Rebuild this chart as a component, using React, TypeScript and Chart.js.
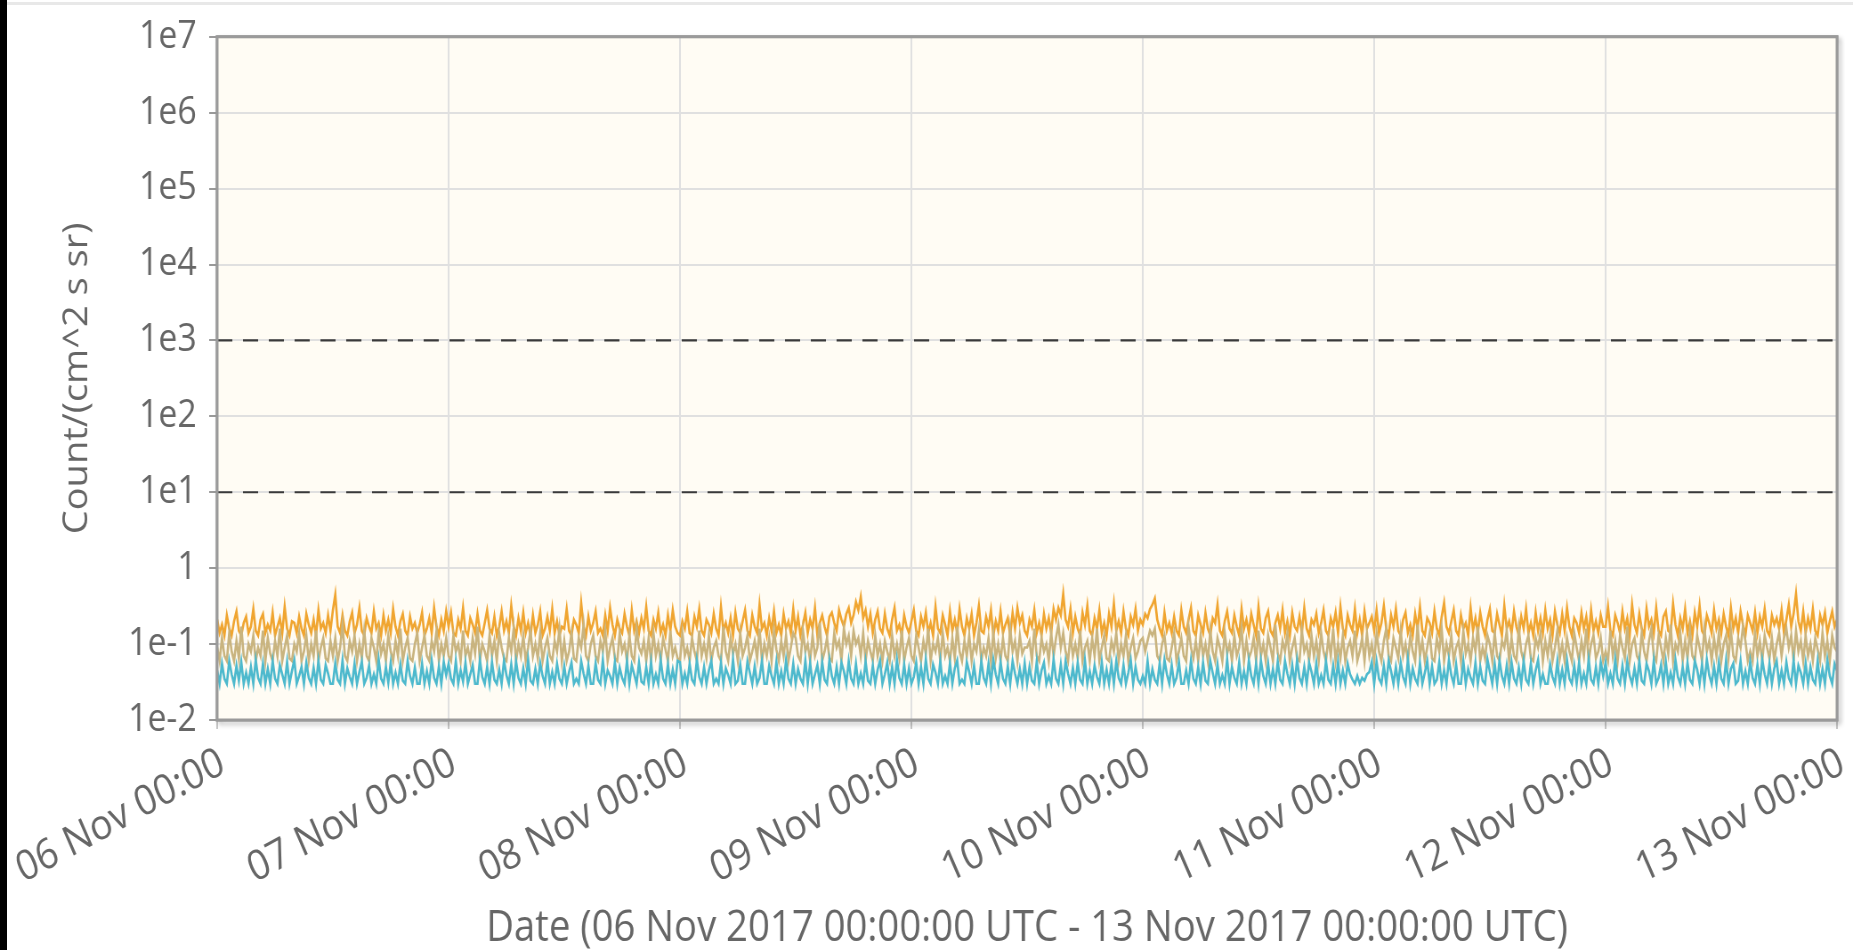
import React, { useEffect, useRef } from "react";
import { Chart, registerables } from "chart.js";

Chart.register(...registerables);

// ---- layout constants (screen picture is slightly narrow, so draw wide and squash) ----
const SQUASH = 0.89;
const SCREEN_W = 1853;
const H = 950;
const W = Math.round(SCREEN_W / SQUASH);
const PLOT_LEFT = Math.round(217 / SQUASH);
const PLOT_RIGHT = Math.round(1837 / SQUASH);
const PLOT_TOP = 30;
const PLOT_BOTTOM = 720;

// ---- data ----
const stepHours = 0.25; // one reading every 15 minutes, starting 06 Nov 2017 00:00 UTC
const xTickHours = [0, 24, 48, 72, 96, 120, 144, 168];
const xTickLabels = [
  "06 Nov 00:00", "07 Nov 00:00", "08 Nov 00:00", "09 Nov 00:00",
  "10 Nov 00:00", "11 Nov 00:00", "12 Nov 00:00", "13 Nov 00:00",
];
const yTickValues = [1e-2, 1e-1, 1, 1e1, 1e2, 1e3, 1e4, 1e5, 1e6, 1e7];
const yTickLabels = ["1e-2", "1e-1", "1", "1e1", "1e2", "1e3", "1e4", "1e5", "1e6", "1e7"];
const thresholds = [1000, 10];
const xTitle = "Date (06 Nov 2017 00:00:00 UTC - 13 Nov 2017 00:00:00 UTC)";
const yTitle = "Count/(cm^2 s sr)";

const orange = [
  .21,.14,.18,.13,.24,.16,.13,.20,.27,.15,.13,.19, .23,.14,.17,.29,.15,.13,.21,.25,.14,.18,.15,.26,
  .13,.17,.22,.14,.31,.16,.13,.20,.19,.14,.23,.16, .13,.25,.18,.14,.21,.13,.28,.16,.19,.14,.24,.15,
  .28,.45,.17,.14,.24,.15,.13,.20,.26,.14,.18,.30, .15,.13,.22,.17,.14,.27,.16,.19,.13,.24,.15,.21,
  .14,.29,.17,.13,.20,.25,.15,.13,.23,.16,.19,.14, .18,.26,.13,.16,.22,.14,.30,.17,.13,.21,.15,.27,

  .17,.26,.14,.13,.21,.16,.30,.15,.13,.22,.18,.14, .25,.15,.13,.19,.28,.16,.14,.23,.13,.17,.27,.15,
  .20,.14,.32,.17,.13,.22,.15,.26,.14,.19,.13,.24, .14,.18,.27,.13,.16,.23,.15,.29,.14,.20,.13,.17,
  .16,.29,.15,.13,.21,.18,.14,.35,.17,.13,.23,.15, .19,.27,.14,.16,.13,.24,.15,.30,.18,.13,.21,.16,
  .14,.25,.17,.13,.28,.15,.20,.14,.22,.16,.31,.15, .13,.21,.16,.26,.14,.18,.13,.24,.15,.28,.17,.14,

  .13,.20,.16,.27,.14,.13,.23,.17,.29,.15,.13,.21, .18,.14,.25,.16,.13,.31,.15,.19,.14,.22,.13,.26,
  .16,.14,.20,.28,.15,.13,.24,.17,.14,.33,.16,.19, .13,.22,.15,.27,.14,.18,.13,.25,.16,.20,.14,.29,
  .15,.23,.13,.18,.26,.14,.21,.16,.30,.13,.19,.24, .17,.13,.23,.26,.19,.15,.28,.21,.17,.25,.30,.19,
  .24,.36,.28,.42,.22,.28,.17,.25,.14,.21,.27,.16, .14,.25,.16,.13,.21,.30,.15,.18,.13,.24,.17,.14,

  .20,.28,.15,.13,.23,.17,.26,.14,.19,.13,.31,.16, .14,.24,.18,.13,.27,.15,.21,.14,.29,.17,.13,.22,
  .16,.25,.13,.19,.32,.15,.14,.23,.17,.28,.13,.20, .15,.27,.14,.18,.22,.13,.26,.16,.30,.19,.24,.15,
  .13,.21,.17,.28,.14,.19,.13,.25,.16,.22,.14,.29, .21,.30,.24,.46,.21,.17,.29,.14,.23,.16,.13,.26,
  .18,.32,.15,.13,.22,.16,.28,.14,.19,.13,.25,.17, .34,.15,.20,.14,.27,.16,.13,.23,.18,.29,.15,.21,

  .18,.25,.22,.29,.33,.40,.21,.16,.13,.26,.15,.19, .14,.23,.15,.13,.28,.17,.14,.21,.30,.15,.13,.24,
  .18,.14,.26,.16,.13,.22,.19,.33,.15,.13,.20,.27, .16,.14,.24,.17,.13,.29,.16,.21,.14,.25,.18,.13,
  .31,.16,.14,.22,.27,.15,.13,.19,.24,.16,.28,.14, .20,.13,.26,.17,.15,.23,.14,.30,.16,.13,.21,.18,
  .25,.14,.19,.28,.15,.13,.22,.17,.26,.14,.31,.16, .13,.24,.18,.15,.29,.14,.21,.13,.27,.16,.19,.23,

  .15,.28,.14,.19,.32,.16,.13,.24,.17,.29,.15,.13, .21,.26,.14,.18,.13,.25,.16,.31,.15,.13,.22,.19,
  .14,.27,.16,.13,.23,.35,.17,.14,.20,.28,.15,.13, .24,.16,.19,.13,.30,.15,.22,.14,.26,.17,.13,.21,
  .29,.15,.14,.25,.18,.13,.32,.16,.20,.14,.27,.17, .13,.23,.16,.29,.14,.19,.13,.26,.15,.22,.14,.28,
  .16,.21,.13,.27,.18,.14,.25,.15,.30,.17,.13,.22, .19,.14,.26,.16,.23,.13,.28,.15,.20,.14,.24,.17,

  .17,.31,.15,.13,.24,.19,.14,.27,.16,.22,.13,.33, .18,.14,.25,.16,.13,.29,.17,.21,.14,.30,.15,.13,
  .23,.27,.15,.14,.34,.18,.13,.22,.16,.29,.14,.20, .13,.26,.17,.32,.15,.13,.24,.19,.14,.28,.16,.21,
  .14,.25,.17,.13,.30,.16,.22,.14,.27,.18,.13,.24, .19,.15,.26,.14,.23,.17,.29,.15,.13,.24,.18,.22,
  .16,.28,.14,.21,.33,.17,.25,.46,.20,.15,.27,.14, .22,.16,.29,.15,.13,.24,.18,.26,.14,.20,.27,.17,

  .21,
];

const tan = [
  .09,.06,.12,.07,.06,.14,.08,.06,.11,.065,.17,.07, .06,.10,.08,.13,.06,.09,.07,.15,.06,.12,.075,.06,
  .11,.07,.16,.06,.09,.13,.065,.06,.10,.08,.14,.06, .08,.13,.06,.10,.07,.15,.06,.09,.12,.065,.06,.11,
  .07,.12,.06,.09,.18,.07,.06,.11,.08,.13,.06,.10, .065,.15,.07,.06,.12,.09,.06,.14,.075,.10,.06,.13,
  .08,.06,.11,.07,.16,.06,.09,.12,.065,.06,.10,.14, .06,.09,.13,.07,.06,.11,.08,.15,.06,.10,.07,.12,

  .07,.06,.13,.08,.10,.06,.15,.07,.09,.06,.12,.075, .17,.06,.10,.08,.06,.13,.07,.11,.06,.14,.09,.065,
  .06,.12,.08,.16,.06,.10,.07,.13,.06,.09,.15,.07, .10,.065,.14,.06,.09,.12,.07,.06,.11,.08,.16,.06,
  .11,.06,.08,.14,.065,.06,.12,.09,.18,.07,.06,.10, .13,.07,.06,.11,.08,.15,.06,.09,.12,.065,.06,.14,
  .08,.10,.06,.13,.07,.06,.16,.09,.075,.11,.06,.12, .06,.14,.07,.10,.06,.12,.085,.06,.15,.07,.09,.065,

  .06,.14,.07,.09,.06,.12,.08,.06,.15,.07,.10,.065, .13,.06,.09,.11,.07,.06,.17,.08,.06,.12,.075,.10,
  .06,.14,.07,.09,.13,.06,.08,.11,.065,.16,.06,.10, .07,.12,.06,.15,.085,.06,.11,.07,.13,.06,.09,.14,
  .12,.07,.06,.15,.08,.10,.06,.13,.07,.09,.19,.06, .08,.12,.065,.06,.14,.09,.11,.06,.16,.10,.13,.07,
  .15,.10,.12,.07,.14,.06,.11,.08,.06,.13,.07,.10, .06,.11,.08,.06,.13,.07,.10,.065,.15,.06,.09,.12,

  .07,.06,.13,.09,.06,.11,.075,.16,.06,.10,.08,.12, .06,.14,.07,.09,.06,.12,.065,.17,.08,.06,.11,.07,
  .13,.06,.10,.08,.15,.06,.09,.07,.12,.06,.14,.065, .10,.06,.12,.07,.06,.16,.08,.11,.06,.13,.075,.09,
  .09,.11,.06,.16,.07,.06,.12,.08,.10,.06,.14,.07, .12,.18,.09,.14,.08,.06,.13,.07,.10,.065,.15,.06,
  .09,.11,.06,.12,.07,.16,.06,.09,.13,.065,.06,.11, .08,.14,.06,.10,.07,.13,.06,.09,.12,.065,.08,.11,

  .12,.08,.11,.15,.13,.16,.07,.06,.10,.13,.065,.06, .09,.14,.06,.08,.12,.07,.06,.17,.09,.065,.11,.06,
  .13,.07,.10,.06,.15,.08,.06,.12,.09,.06,.14,.075, .10,.06,.13,.07,.09,.16,.06,.11,.065,.08,.12,.06,
  .15,.07,.10,.06,.13,.09,.06,.18,.075,.06,.11,.08, .14,.06,.09,.12,.065,.06,.15,.08,.10,.06,.13,.07,
  .11,.06,.14,.08,.06,.12,.07,.16,.06,.10,.065,.13, .06,.09,.11,.07,.15,.06,.08,.12,.06,.14,.07,.10,

  .06,.14,.08,.06,.11,.16,.07,.06,.12,.09,.065,.15, .07,.10,.06,.13,.08,.06,.18,.07,.11,.06,.09,.14,
  .065,.06,.12,.08,.16,.06,.10,.07,.13,.06,.09,.11, .06,.15,.075,.10,.06,.12,.08,.17,.06,.09,.065,.13,
  .10,.06,.14,.07,.06,.11,.09,.15,.06,.12,.07,.06, .16,.08,.06,.10,.13,.065,.06,.12,.09,.14,.06,.11,
  .07,.13,.06,.09,.15,.065,.10,.06,.12,.08,.06,.14, .09,.06,.11,.07,.16,.06,.10,.13,.065,.08,.12,.06,

  .08,.06,.15,.07,.11,.06,.13,.09,.065,.17,.06,.10, .12,.07,.06,.14,.08,.06,.11,.16,.07,.06,.13,.09,
  .06,.12,.075,.18,.06,.10,.08,.14,.06,.11,.065,.15, .07,.06,.13,.09,.06,.16,.08,.11,.06,.12,.07,.14,
  .06,.10,.13,.065,.15,.07,.06,.12,.09,.17,.11,.06, .08,.06,.14,.07,.11,.06,.13,.09,.065,.12,.06,.10,
  .14,.07,.12,.16,.09,.13,.06,.15,.08,.11,.06,.13, .07,.10,.06,.12,.085,.06,.14,.07,.11,.06,.13,.09,

  .08,
];

const blue = [
  .045,.03,.055,.035,.03,.06,.04,.03,.052,.033,.058,.03, .042,.03,.05,.03,.062,.036,.03,.055,.03,.047,.03,.06,
  .035,.03,.053,.04,.03,.058,.03,.044,.062,.03,.038,.05, .03,.057,.036,.03,.049,.03,.06,.034,.03,.053,.041,.03,
  .03,.056,.034,.03,.061,.03,.048,.037,.03,.055,.03,.043, .059,.03,.036,.052,.03,.04,.03,.063,.035,.03,.05,.031,
  .057,.03,.042,.03,.054,.033,.03,.06,.038,.03,.049,.03, .03,.055,.03,.044,.03,.061,.036,.03,.051,.03,.058,.039,

  .055,.035,.03,.06,.03,.045,.032,.057,.03,.04,.053,.03, .03,.062,.037,.03,.05,.03,.058,.034,.03,.046,.03,.061,
  .039,.03,.054,.03,.059,.036,.03,.048,.03,.063,.033,.03, .047,.03,.056,.038,.03,.061,.03,.043,.03,.055,.035,.03,
  .051,.03,.043,.057,.03,.035,.03,.06,.041,.03,.052,.03, .03,.056,.034,.03,.062,.03,.045,.038,.03,.058,.03,.049,
  .036,.03,.06,.03,.053,.04,.03,.057,.032,.03,.05,.03, .058,.03,.04,.03,.062,.035,.03,.054,.03,.046,.03,.06,

  .058,.03,.041,.03,.055,.034,.03,.062,.037,.03,.05,.03, .045,.06,.03,.035,.03,.057,.03,.048,.039,.03,.063,.03,
  .033,.054,.03,.03,.059,.042,.03,.051,.03,.036,.06,.03, .03,.052,.038,.03,.058,.03,.044,.03,.061,.035,.03,.055,
  .03,.047,.035,.03,.061,.03,.056,.03,.04,.053,.03,.058, .034,.03,.062,.038,.03,.05,.03,.057,.044,.03,.06,.035,
  .03,.055,.03,.041,.03,.059,.033,.03,.052,.03,.046,.061, .03,.04,.057,.03,.05,.03,.063,.036,.03,.054,.03,.048,

  .03,.037,.057,.03,.05,.03,.063,.035,.03,.054,.042,.03, .06,.03,.038,.03,.056,.03,.048,.061,.03,.034,.03,.058,
  .043,.03,.052,.03,.03,.06,.036,.03,.055,.03,.062,.04, .03,.058,.035,.03,.051,.03,.06,.041,.03,.047,.03,.056,
  .03,.05,.033,.03,.059,.03,.045,.057,.03,.038,.03,.063, .035,.03,.054,.03,.06,.041,.03,.049,.03,.057,.034,.03,
  .061,.03,.044,.03,.052,.037,.03,.058,.03,.046,.03,.055, .03,.06,.036,.03,.053,.03,.042,.062,.03,.05,.034,.03,

  .038,.03,.06,.03,.047,.034,.03,.056,.03,.062,.04,.03, .053,.03,.036,.058,.03,.03,.045,.03,.061,.035,.03,.05,
  .03,.057,.033,.03,.06,.042,.03,.054,.03,.039,.03,.063, .03,.05,.036,.03,.058,.03,.044,.03,.061,.038,.03,.055,
  .03,.061,.038,.03,.055,.03,.047,.03,.059,.034,.03,.06, .041,.03,.053,.03,.062,.036,.03,.05,.03,.057,.043,.03,
  .056,.03,.039,.03,.06,.034,.03,.052,.03,.058,.03,.045, .03,.055,.04,.034,.03,.038,.03,.036,.033,.04,.043,.058,

  .03,.059,.035,.03,.052,.03,.061,.044,.03,.05,.03,.057, .037,.03,.063,.03,.048,.035,.03,.056,.03,.042,.06,.03,
  .051,.03,.034,.058,.03,.045,.03,.062,.039,.03,.054,.03, .03,.06,.03,.047,.036,.03,.057,.03,.05,.033,.03,.063,
  .043,.03,.055,.03,.061,.038,.03,.052,.03,.058,.035,.03, .049,.03,.06,.034,.03,.056,.03,.045,.062,.03,.04,.03,
  .03,.054,.037,.03,.059,.03,.046,.03,.061,.035,.03,.052, .03,.057,.03,.041,.03,.063,.034,.03,.05,.03,.058,.038,

  .057,.03,.041,.03,.063,.035,.03,.052,.03,.059,.038,.03, .048,.03,.06,.033,.03,.055,.044,.03,.061,.03,.036,.053,
  .03,.058,.03,.042,.03,.062,.037,.03,.05,.03,.057,.034, .03,.06,.046,.03,.054,.03,.063,.039,.03,.051,.03,.058,
  .035,.03,.061,.03,.047,.056,.03,.033,.06,.03,.044,.03, .059,.036,.03,.053,.03,.062,.04,.03,.055,.03,.048,.06,
  .03,.045,.03,.058,.036,.03,.061,.03,.052,.042,.03,.056, .03,.05,.034,.03,.06,.03,.047,.03,.062,.038,.03,.055,

  .045,
];

// ---- styles ----
const FONT = "'Open Sans', 'Noto Sans', sans-serif";
const TEXT = "#666666";
const GRID = "#e0e0e0";
const FRAME = "#9a9a9a";
const PLOT_BG = "#fffcf4";
const ORANGE = "#f0a530";
const TAN = "#c9b47f";
const BLUE = "#4db9cd";
const LINE_W = 2.6;

const toPoints = (arr: number[]) => arr.map((v, i) => ({ x: i * stepHours, y: v }));

const plotFrame = {
  id: "plotFrame",
  beforeDraw(chart: any) {
    const { ctx, chartArea } = chart;
    const { left, top, right, bottom } = chartArea;
    ctx.save();
    ctx.fillStyle = PLOT_BG;
    ctx.fillRect(left, top, right - left, bottom - top);
    ctx.restore();
  },
  afterDatasetsDraw(chart: any) {
    const { ctx, chartArea, width, height } = chart;
    const { left, top, right, bottom } = chartArea;
    ctx.save();
    ctx.beginPath();
    ctx.rect(0, 0, width, height);
    ctx.rect(left, top, right - left, bottom - top);
    ctx.clip("evenodd");
    ctx.shadowColor = "rgba(0,0,0,0.28)";
    ctx.shadowBlur = 5;
    ctx.shadowOffsetX = 3;
    ctx.shadowOffsetY = 3;
    ctx.strokeStyle = FRAME;
    ctx.lineWidth = 3;
    ctx.strokeRect(left, top, right - left, bottom - top);
    ctx.restore();
    ctx.save();
    ctx.strokeStyle = FRAME;
    ctx.lineWidth = 3;
    ctx.strokeRect(left, top, right - left, bottom - top);
    ctx.restore();
  },
};

export default function App() {
  const ref = useRef<HTMLCanvasElement | null>(null);

  useEffect(() => {
    if (!ref.current) return;
    const thresholdSets = thresholds.map((t) => ({
      label: "threshold " + t,
      data: [
        { x: xTickHours[0], y: t },
        { x: xTickHours[xTickHours.length - 1], y: t },
      ],
      borderColor: "#3a3a3a",
      borderWidth: 2.2,
      borderDash: [17, 12],
      pointRadius: 0,
      order: -1,
    }));
    const series = (label: string, arr: number[], color: string, order: number) => ({
      label,
      data: toPoints(arr),
      borderColor: color,
      borderWidth: LINE_W,
      pointRadius: 0,
      tension: 0,
      order,
    });
    const chart = new Chart(ref.current, {
      type: "line",
      data: {
        datasets: [
          series("blue", blue, BLUE, 0),
          series("tan", tan, TAN, 1),
          series("orange", orange, ORANGE, 2),
          ...thresholdSets,
        ],
      },
      options: {
        responsive: false,
        animation: false,
        devicePixelRatio: 1,
        layout: { padding: { left: 0, right: W - PLOT_RIGHT, top: PLOT_TOP, bottom: 0 } },
        plugins: { legend: { display: false }, tooltip: { enabled: false } },
        scales: {
          x: {
            type: "linear",
            min: xTickHours[0],
            max: xTickHours[xTickHours.length - 1],
            afterBuildTicks: (s: any) => {
              s.ticks = xTickHours.map((v) => ({ value: v }));
            },
            afterFit: (s: any) => {
              s.height = H - PLOT_BOTTOM;
              s.paddingLeft = 0;
              s.paddingRight = 0;
            },
            ticks: {
              autoSkip: false,
              minRotation: 26,
              maxRotation: 26,
              padding: 9,
              labelOffset: 6,
              color: TEXT,
              font: { family: FONT, size: 42 },
              callback: (v: any) => xTickLabels[xTickHours.indexOf(Number(v))] ?? "",
            },
            grid: { color: GRID, lineWidth: 2, tickLength: 9, tickColor: "#c8c8c8", tickWidth: 2 },
            border: { display: false },
            title: {
              display: true,
              text: xTitle,
              color: TEXT,
              font: { family: FONT, size: 43, lineHeight: 1.0 },
              padding: { top: 0, bottom: 0 },
            },
          },
          y: {
            type: "logarithmic",
            min: yTickValues[0],
            max: yTickValues[yTickValues.length - 1],
            afterBuildTicks: (s: any) => {
              s.ticks = yTickValues.map((v) => ({ value: v }));
            },
            afterFit: (s: any) => {
              s.width = PLOT_LEFT;
            },
            ticks: {
              autoSkip: false,
              padding: 14,
              color: TEXT,
              font: { family: FONT, size: 38 },
              callback: (v: any) => yTickLabels[yTickValues.indexOf(Number(v))] ?? "",
            },
            grid: { color: GRID, lineWidth: 2, tickLength: 9, tickColor: FRAME, tickWidth: 2 },
            border: { display: false },
            title: {
              display: true,
              text: yTitle,
              color: TEXT,
              font: { family: FONT, size: 38 },
              padding: { top: Math.round(77 / SQUASH) - 23, bottom: 0 },
            },
          },
        },
      },
      plugins: [plotFrame],
    } as any);
    return () => chart.destroy();
  }, []);

  return (
    <div style={{ position: "fixed", left: 0, top: 0, width: SCREEN_W, height: H, overflow: "hidden", background: "#ffffff" }}>
      <div style={{ position: "absolute", left: 0, top: 0, width: W, height: H, transform: `scaleX(${SQUASH})`, transformOrigin: "0 0" }}>
        <canvas ref={ref} width={W} height={H} style={{ display: "block", width: W, height: H }} />
      </div>
      <div style={{ position: "absolute", left: 0, top: 2, width: SCREEN_W, height: 3, background: "#e8e8e8" }} />
      <div style={{ position: "absolute", left: 0, top: 0, width: 7, height: H, background: "#000000" }} />
    </div>
  );
}
